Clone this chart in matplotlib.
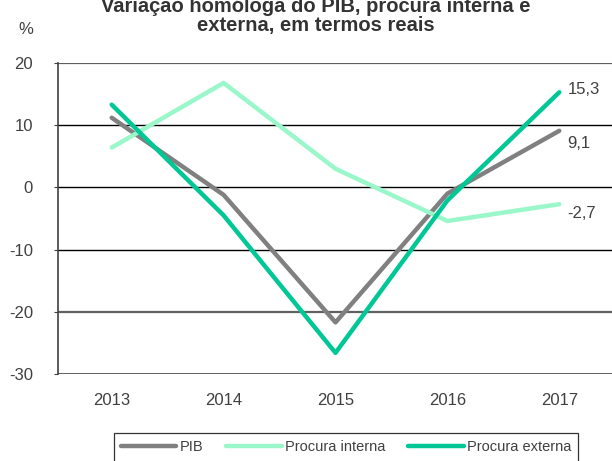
import matplotlib
matplotlib.use("Agg")
import matplotlib.pyplot as plt
from matplotlib import font_manager

years = ["2013", "2014", "2015", "2016", "2017"]
pib = [11.2, -1.2, -21.7, -1.0, 9.1]
interna = [6.4, 16.8, 3.0, -5.4, -2.7]
externa = [13.3, -4.5, -26.6, -2.1, 15.3]
series_names = ["PIB", "Procura interna", "Procura externa"]
end_labels = ["9,1", "-2,7", "15,3"]
yticks = [20, 10, 0, -10, -20, -30]

avail = {f.name for f in font_manager.fontManager.ttflist}
fam = "Liberation Sans Narrow" if "Liberation Sans Narrow" in avail else "Liberation Sans"
plt.rcParams['font.family'] = [fam, 'DejaVu Sans']

fig = plt.figure(figsize=(6.12, 4.61), dpi=100)
ax = fig.add_axes([58/612, 1-374/461, (613-58)/612, (374-63)/461])

x = list(range(len(years)))
colors = ["#808080", "#99F7CA", "#00C795"]
data = [pib, interna, externa]
for vals, c, n in zip(data, colors, series_names):
    ax.plot(x, vals, color=c, lw=3.2, label=n, solid_capstyle='round', zorder=3)

offsets = [(6, -9), (6, -7), (6, 2)]
for vals, lab, off in zip(data, end_labels, offsets):
    ax.annotate(lab, (x[-1], vals[-1]), xytext=off, textcoords='offset points',
                ha='left', va='center', fontsize=12, color='#404040')

ax.set_xlim(-0.48, 4.48)
ax.set_ylim(-30, 20)
ax.set_yticks(yticks)
ax.set_yticklabels([str(v) for v in yticks], fontsize=12, color='#404040')
ax.set_xticks(x)
ax.set_xticklabels(years, fontsize=12, color='#404040')
ax.tick_params(axis='x', length=0, pad=14)
ax.tick_params(axis='y', length=3, pad=15, color='#404040')

for v in [10, 0, -10]:
    ax.axhline(v, color='black', lw=1.0, zorder=1)
for v in [20, -20]:
    ax.axhline(v, color='#606060', lw=1.6, zorder=1)
ax.axhline(-30, color='#505050', lw=2, zorder=1)

for s in ['top', 'right', 'bottom']:
    ax.spines[s].set_visible(False)
ax.spines['left'].set_color('#404040')
ax.spines['left'].set_linewidth(1.2)

fig.text(26/612, 1-30/461, "%", fontsize=12, color='#404040', ha='center', va='center')
fig.text(316/612, 1-16/461, "Variação homóloga do PIB, procura interna e\nexterna, em termos reais",
         fontsize=14.5, fontweight='bold', color='#333333', ha='center', va='center', linespacing=1.05)

leg = fig.legend(loc='lower center', bbox_to_anchor=(346/612, -8/461), ncol=3, fontsize=10.5,
                 frameon=True, fancybox=False, handlelength=3.8, columnspacing=1.6,
                 handletextpad=0.2, borderpad=0.5)
leg.get_frame().set_edgecolor('black')
leg.get_frame().set_linewidth(0.9)
for t in leg.get_texts():
    t.set_color('#404040')

fig.savefig("out.png", dpi=100)
